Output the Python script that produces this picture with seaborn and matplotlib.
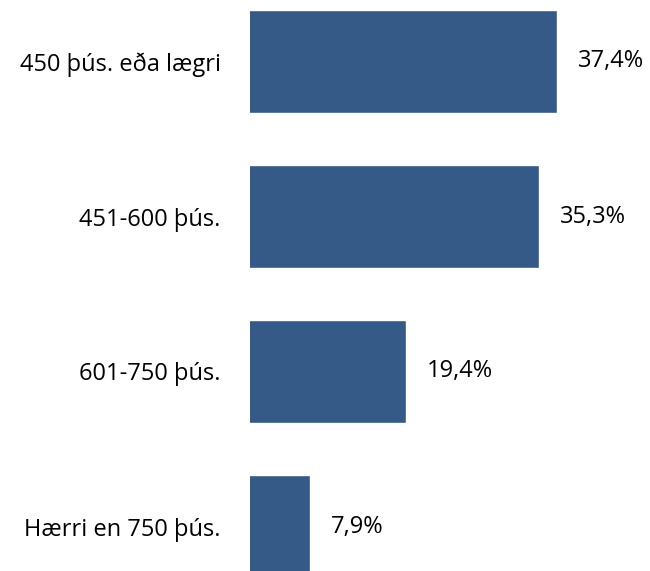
import matplotlib
matplotlib.use("Agg")
import matplotlib.pyplot as plt
import seaborn as sns
import pandas as pd

categories = ["450 þús. eða lægri", "451-600 þús.", "601-750 þús.", "Hærri en 750 þús."]
values = [37.4, 35.3, 19.4, 7.9]
value_labels = ["37,4%", "35,3%", "19,4%", "7,9%"]

sns.set_theme(style="white")
plt.rcParams["font.family"] = ["Open Sans", "DejaVu Sans"]

df = pd.DataFrame({"cat": categories, "val": values})

fig = plt.figure(figsize=(6.5, 5.71), dpi=100)
ax = fig.add_axes([250 / 650, 0, 400 / 650, 1])
sns.barplot(data=df, y="cat", x="val", orient="h", color="#355A87",
            saturation=1, width=0.665, ax=ax)

k = 8.37
ax.set_xlim(6 / k, 6 / k + 400 / k)
ax.set_ylim(-61.5 / 155 + 571 / 155, -61.5 / 155)

for cont in ax.containers:
    ax.bar_label(cont, labels=value_labels, padding=15, fontsize=17, color="#000000")

ax.set_xlabel("")
ax.set_ylabel("")
ax.set_xticks([])
ax.tick_params(axis="y", length=0, pad=21, labelsize=17, labelcolor="#000000")
for s in ax.spines.values():
    s.set_visible(False)

fig.savefig("out.png", dpi=100)
